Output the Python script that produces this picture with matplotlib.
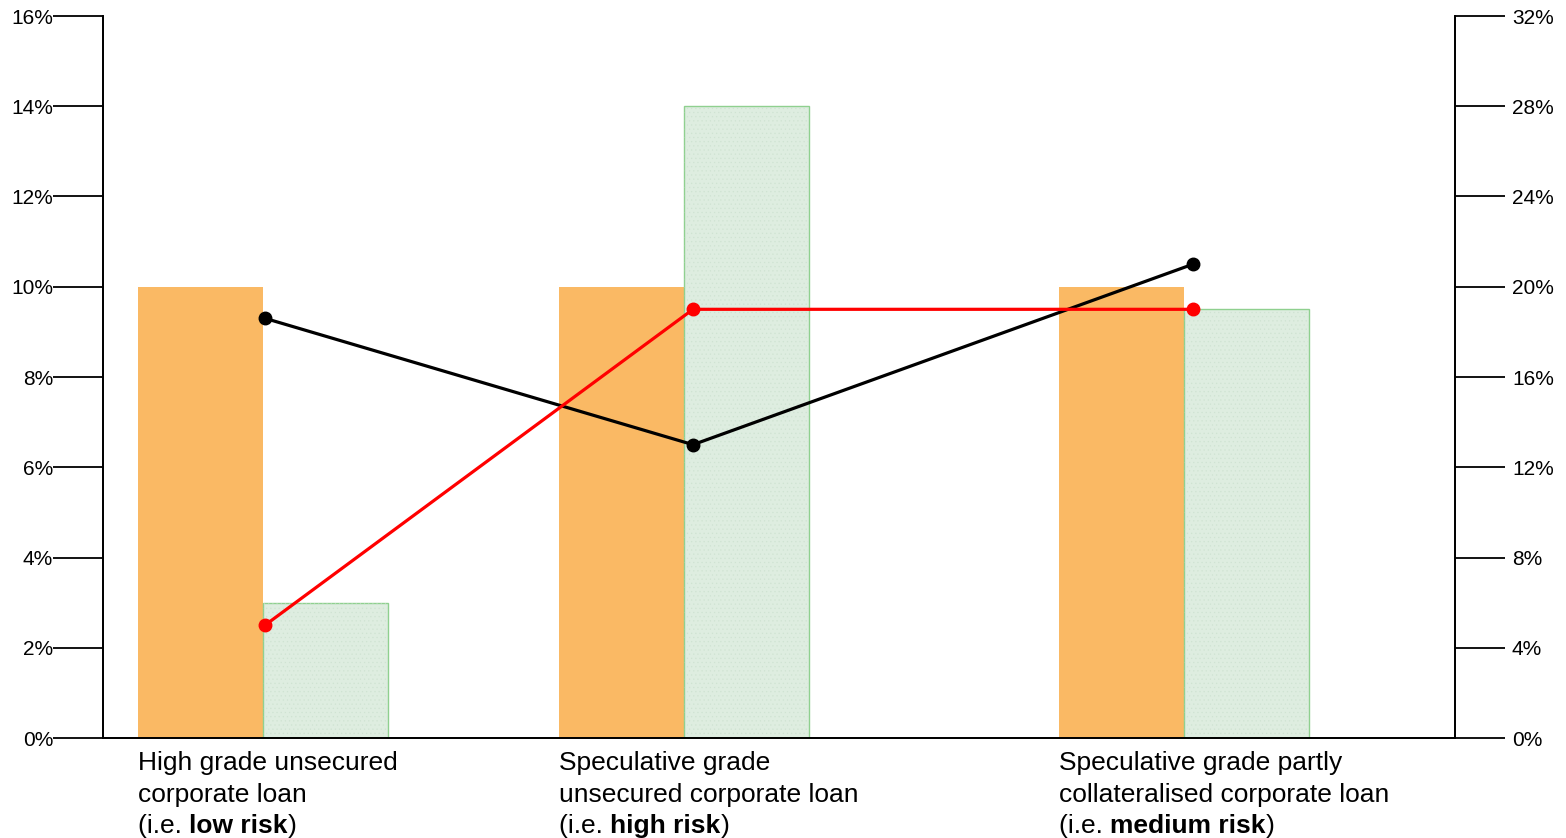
import matplotlib.pyplot as plt
from matplotlib.ticker import PercentFormatter

plt.rcParams['font.family'] = ['Liberation Sans', 'DejaVu Sans']

# loan categories and their positions along the x axis
cat_first = ['High grade unsecured', 'Speculative grade', 'Speculative grade partly']
cat_second = ['corporate loan', 'unsecured corporate loan', 'collateralised corporate loan']
risk = ['low risk', 'high risk', 'medium risk']
positions = [1.28, 4.648, 8.648]
line_pos = [1.296, 4.72, 8.72]

# bars, left axis (%)
orange_vals = [10.0, 10.0, 10.0]
green_vals = [3.0, 14.0, 9.5]

# lines, right axis (%)
black_vals = [18.6, 13.0, 21.0]
red_vals = [5.0, 19.0, 19.0]

bar_w = 1.0
orange = '#fab964'
green_fill = '#deede0'
green_edge = '#8fd08f'

fig = plt.figure(figsize=(15.66, 8.38), dpi=100)
ax = fig.add_axes([103 / 1566, 100 / 838, 1352 / 1566, 722 / 838])
ax2 = ax.twinx()

ax.bar([p - bar_w / 2 for p in positions], orange_vals, width=bar_w,
       color=orange, linewidth=0, zorder=2)
ax.bar([p + bar_w / 2 for p in positions], green_vals, width=bar_w,
       color=green_fill, edgecolor=green_edge, linewidth=1.0, zorder=2)
# light dotted texture on the green bars
plt.rcParams['hatch.linewidth'] = 0.4
ax.bar([p + bar_w / 2 for p in positions], green_vals, width=bar_w,
       fill=False, hatch='....', edgecolor='#cfe3d2', linewidth=0, zorder=2)

ax2.plot(line_pos, black_vals, color='black', lw=2.3, marker='o', ms=9, zorder=4)
ax2.plot(line_pos, red_vals, color='#ff0000', lw=2.3, marker='o', ms=9, zorder=4)

ax.set_xlim(0, 1352 / 125)
ax.set_ylim(0, 16)
ax2.set_ylim(0, 32)
ax.set_yticks(range(0, 17, 2))
ax2.set_yticks(range(0, 33, 4))
ax.yaxis.set_major_formatter(PercentFormatter(decimals=0))
ax2.yaxis.set_major_formatter(PercentFormatter(decimals=0))
ax.set_xticks([])

for a in (ax, ax2):
    a.spines['top'].set_visible(False)
    a.spines['left'].set_linewidth(1.3)
    a.spines['right'].set_linewidth(1.3)
    a.spines['bottom'].set_linewidth(1.3)
    a.tick_params(axis='y', length=36, width=1.3, labelsize=15)
ax.tick_params(axis='y', pad=0)
ax2.tick_params(axis='y', pad=5)
ax.set_zorder(ax2.get_zorder() - 1)
ax2.patch.set_visible(False)
ax.patch.set_visible(True)

# category labels under the axis, with the risk level in bold
fs = 19
for p, t1, t2, r in zip(positions, cat_first, cat_second, risk):
    x0 = p - bar_w
    ax.text(x0, -0.0345, t1, transform=ax.get_xaxis_transform(),
            fontsize=fs, ha='left', va='center')
    ax.text(x0, -0.079, t2, transform=ax.get_xaxis_transform(),
            fontsize=fs, ha='left', va='center')
    t = ax.text(x0, -0.1225, '(i.e. ', transform=ax.get_xaxis_transform(),
                fontsize=fs, ha='left', va='center')
    b = ax.annotate(r, xy=(1, 0), xycoords=t, fontsize=fs,
                    fontweight='bold', ha='left', va='bottom')
    ax.annotate(')', xy=(1, 0), xycoords=b, fontsize=fs,
                ha='left', va='bottom')

fig.savefig('out.png', dpi=100)
